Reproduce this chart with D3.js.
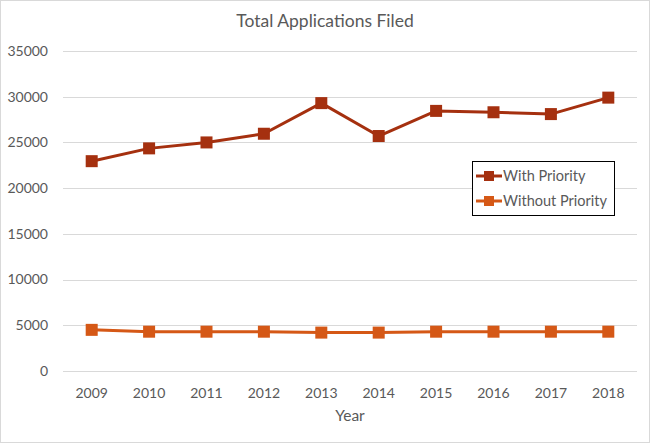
<!DOCTYPE html>
<html>
<head>
<meta charset="utf-8">
<script src="https://cdn.jsdelivr.net/npm/d3@7"></script>
<style>
  body { margin: 0; background: #fff; }
  svg { display: block; font-family: Lato, "Open Sans", sans-serif; }
</style>
</head>
<body>
<div id="chart"></div>
<script>
const years = ["2009", "2010", "2011", "2012", "2013", "2014", "2015", "2016", "2017", "2018"];
const withPriority = [22950, 24350, 25000, 25950, 29300, 25700, 28450, 28300, 28100, 29900];
const withoutPriority = [4500, 4300, 4300, 4300, 4200, 4200, 4300, 4300, 4300, 4300];
const yTicks = [0, 5000, 10000, 15000, 20000, 25000, 30000, 35000];
const seriesNames = ["With Priority", "Without Priority"];
const seriesColors = ["#A5300F", "#D55816"];

const width = 650;
const height = 443;
const margin = { top: 51, right: 13, bottom: 72, left: 63 };

const svg = d3.select("#chart")
    .append("svg")
    .attr("width", width)
    .attr("height", height);

// chart border
svg.append("rect")
    .attr("x", 0.5)
    .attr("y", 0.5)
    .attr("width", width - 1)
    .attr("height", height - 1)
    .attr("fill", "#fff")
    .attr("stroke", "#d9d9d9");

const x = d3.scaleBand()
    .domain(years)
    .range([margin.left, width - margin.right]);

const y = d3.scaleLinear()
    .domain([0, 35000])
    .range([height - margin.bottom, margin.top]);

// Title
svg.append("text")
    .attr("x", width / 2)
    .attr("y", 27)
    .attr("text-anchor", "middle")
    .attr("font-size", "17.5px")
    .attr("fill", "#595959")
    .text("Total Applications Filed");

// Gridlines
svg.append("g")
    .selectAll("line")
    .data(yTicks)
    .enter()
    .append("line")
    .attr("x1", margin.left)
    .attr("x2", width - margin.right)
    .attr("y1", d => Math.round(y(d)) + 0.5)
    .attr("y2", d => Math.round(y(d)) + 0.5)
    .attr("stroke", "#d9d9d9")
    .attr("stroke-width", 1);

// Y axis labels
svg.append("g")
    .selectAll("text")
    .data(yTicks)
    .enter()
    .append("text")
    .attr("x", 48)
    .attr("y", d => y(d))
    .attr("dy", "0.35em")
    .attr("text-anchor", "end")
    .attr("font-size", "14px")
    .attr("fill", "#595959")
    .text(d => d);

// X axis labels
svg.append("g")
    .selectAll("text")
    .data(years)
    .enter()
    .append("text")
    .attr("x", d => x(d) + x.bandwidth() / 2)
    .attr("y", 398)
    .attr("text-anchor", "middle")
    .attr("font-size", "14px")
    .attr("fill", "#595959")
    .text(d => d);

// Axis title
svg.append("text")
    .attr("x", (margin.left + width - margin.right) / 2)
    .attr("y", 421)
    .attr("text-anchor", "middle")
    .attr("font-size", "15.5px")
    .attr("fill", "#595959")
    .text("Year");

// Lines
const line = d3.line()
    .x((d, i) => x(years[i]) + x.bandwidth() / 2)
    .y(d => y(d));

const markerSize = 12;
[withPriority, withoutPriority].forEach((values, si) => {
    const g = svg.append("g");
    g.append("path")
        .datum(values)
        .attr("d", line)
        .attr("fill", "none")
        .attr("stroke", seriesColors[si])
        .attr("stroke-width", 3)
        .attr("stroke-linejoin", "round");
    g.selectAll("rect")
        .data(values)
        .enter()
        .append("rect")
        .attr("x", (d, i) => x(years[i]) + x.bandwidth() / 2 - markerSize / 2)
        .attr("y", d => y(d) - markerSize / 2)
        .attr("width", markerSize)
        .attr("height", markerSize)
        .attr("fill", seriesColors[si]);
});

// Legend
const legend = svg.append("g")
    .attr("transform", "translate(472,161)");

legend.append("rect")
    .attr("x", 0.5)
    .attr("y", 0.5)
    .attr("width", 142)
    .attr("height", 54)
    .attr("fill", "#fff")
    .attr("stroke", "#000")
    .attr("stroke-width", 1);

const items = legend.selectAll(".legend-item")
    .data(seriesNames)
    .enter()
    .append("g")
    .attr("class", "legend-item")
    .attr("transform", (d, i) => `translate(0,${15 + i * 25})`);

items.append("line")
    .attr("x1", 4)
    .attr("x2", 30)
    .attr("stroke", (d, i) => seriesColors[i])
    .attr("stroke-width", 3);

items.append("rect")
    .attr("x", 12)
    .attr("y", -5)
    .attr("width", 10)
    .attr("height", 10)
    .attr("fill", (d, i) => seriesColors[i]);

items.append("text")
    .attr("x", 31)
    .attr("dy", "0.35em")
    .attr("font-size", "14.5px")
    .attr("fill", "#595959")
    .text(d => d);
</script>
</body>
</html>
